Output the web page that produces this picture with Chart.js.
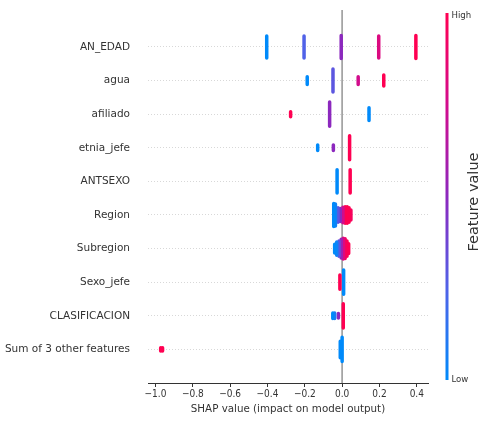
<!DOCTYPE html>
<html>
<head>
<meta charset="utf-8">
<script src="https://cdn.jsdelivr.net/npm/chart.js@4"></script>
<style>
  html, body { margin: 0; padding: 0; background: #fff; }
  #wrap { width: 478px; height: 426px; }
</style>
</head>
<body>
<div id="wrap"><canvas id="chart" width="478" height="426"></canvas></div>
<script>
// features, top to bottom
const features = ['AN_EDAD', 'agua', 'afiliado', 'etnia_jefe', 'ANTSEXO', 'Region',
  'Subregion', 'Sexo_jefe', 'CLASIFICACION', 'Sum of 3 other features'];
const xTicks = [-1.0, -0.8, -0.6, -0.4, -0.2, 0.0, 0.2, 0.4];

// stacked groups of samples: feature row, SHAP value, feature value (0 low .. 1 high), sample count
const clusterRow = [
  0, 0, 0, 0, 0,
  1, 1, 1, 1,
  2, 2, 2,
  3, 3, 3,
  4, 4,
  5, 5, 5, 5, 5, 5, 5, 5, 5,
  6, 6, 6, 6, 6, 6, 6, 6,
  7, 7,
  8, 8, 8, 8,
  9, 9, 9, 9
];
const clusterShap = [
  -0.404, -0.204, -0.005, 0.196, 0.395,
  -0.187, -0.049, 0.086, 0.223,
  -0.276, -0.067, 0.144,
  -0.131, -0.047, 0.040,
  -0.027, 0.043,
  -0.045, -0.036, -0.022, -0.010, 0.004, 0.016, 0.027, 0.037, 0.047,
  -0.040, -0.029, -0.017, -0.005, 0.006, 0.016, 0.026, 0.035,
  -0.012, 0.008,
  -0.050, -0.040, -0.020, 0.006,
  -0.972, -0.962, -0.010, 0.000
];
const clusterValue = [
  0.0, 0.25, 0.5, 0.8, 1.0,
  0.0, 0.3, 0.75, 1.0,
  1.0, 0.5, 0.0,
  0.0, 0.5, 1.0,
  0.0, 1.0,
  0.0, 0.05, 0.3, 0.5, 0.75, 1.0, 1.0, 1.0, 0.95,
  0.0, 0.05, 0.3, 0.55, 0.8, 0.95, 1.0, 1.0,
  1.0, 0.0,
  0.0, 0.1, 0.5, 1.0,
  1.0, 1.0, 0.0, 0.0
];
const clusterCount = [
  40, 40, 42, 40, 42,
  14, 42, 14, 20,
  9, 44, 23,
  10, 10, 44,
  42, 42,
  42, 40, 26, 24, 28, 30, 30, 26, 18,
  16, 24, 28, 34, 38, 36, 28, 18,
  26, 44,
  10, 10, 8, 44,
  6, 6, 30, 44
];

const stops = [
  [0.0, [0, 138, 250]],
  [0.25, [80, 98, 232]],
  [0.5, [140, 40, 190]],
  [0.75, [210, 12, 140]],
  [1.0, [255, 0, 82]]
];
function cmap(v) {
  for (let i = 1; i < stops.length; i++) {
    if (v <= stops[i][0]) {
      const [a, ca] = stops[i - 1];
      const [b, cb] = stops[i];
      const t = (v - a) / (b - a);
      const c = ca.map((k, j) => Math.round(k + (cb[j] - k) * t));
      return `rgb(${c[0]},${c[1]},${c[2]})`;
    }
  }
  return 'rgb(255,0,82)';
}

const datasets = clusterRow.map((row, i) => {
  const h = 0.36 * Math.min(clusterCount[i], 44) / 44;
  return {
    data: [{x: clusterShap[i], y: row - h}, {x: clusterShap[i], y: row + h}],
    borderColor: cmap(clusterValue[i]),
    borderWidth: 3.5,
    borderCapStyle: 'round',
    showLine: true,
    pointRadius: 0,
  };
});
// zero line, last so it is drawn underneath
datasets.push({
  data: [{x: 0, y: -1.1}, {x: 0, y: 10}],
  borderColor: '#a0a0a0',
  borderWidth: 1,
  showLine: true,
  pointRadius: 0,
});

const colorBar = {
  id: 'colorBar',
  afterDraw(chart) {
    const {ctx, chartArea} = chart;
    const x = chartArea.right + 17.5, top = 13, bottom = 380;
    const g = ctx.createLinearGradient(0, bottom, 0, top);
    stops.forEach(([s]) => g.addColorStop(s, cmap(s)));
    ctx.save();
    ctx.fillStyle = g;
    ctx.fillRect(x, top, 3, bottom - top);
    ctx.fillStyle = '#333';
    ctx.font = '9.5px "DejaVu Sans Condensed", "DejaVu Sans"';
    ctx.textBaseline = 'middle';
    ctx.textAlign = 'left';
    ctx.fillText('High', x + 6, top + 3);
    ctx.fillText('Low', x + 6, bottom);
    ctx.translate(474, 202);
    ctx.rotate(-Math.PI / 2);
    ctx.textAlign = 'center';
    ctx.font = '14.5px "DejaVu Sans"';
    ctx.fillText('Feature value', 0, 0);
    ctx.restore();
  }
};

new Chart(document.getElementById('chart'), {
  type: 'scatter',
  data: {datasets},
  options: {
    responsive: false,
    animation: false,
    layout: {padding: {top: 10, right: 50, left: 0, bottom: 0}},
    plugins: {
      legend: {display: false},
      tooltip: {enabled: false},
    },
    scales: {
      x: {
        type: 'linear',
        min: -1.04,
        max: 0.46,
        afterBuildTicks: (axis) => { axis.ticks = xTicks.map((value) => ({value})); },
        afterFit: (scale) => { scale.height = 43; },
        ticks: {
          color: '#333',
          padding: 1,
          font: {family: '"DejaVu Sans Condensed", "DejaVu Sans"', size: 10},
          callback: (v) => (v < 0 ? '\u2212' : '') + Math.abs(v).toFixed(1),
        },
        grid: {drawOnChartArea: false, drawTicks: true, tickLength: 4, tickColor: '#333'},
        border: {display: true, color: '#333'},
        title: {
          display: true,
          text: 'SHAP value (impact on model output)',
          color: '#333',
          padding: {top: 0, bottom: 10},
          font: {family: '"DejaVu Sans"', size: 10.3},
        },
      },
      y: {
        type: 'linear',
        reverse: true,
        min: -1.1,
        max: 10,
        afterBuildTicks: (axis) => { axis.ticks = features.map((f, i) => ({value: i})); },
        afterFit: (scale) => { scale.width = 148; },
        ticks: {
          color: '#333',
          padding: 2,
          font: {family: '"DejaVu Sans"', size: 10.5},
          callback: (v) => features[v],
        },
        grid: {color: '#d8d8d8', drawTicks: true, tickLength: 16, tickColor: 'rgba(0,0,0,0)', lineWidth: 1},
        border: {display: false, dash: [1, 2]},
      },
    },
  },
  plugins: [colorBar],
});
</script>
</body>
</html>
